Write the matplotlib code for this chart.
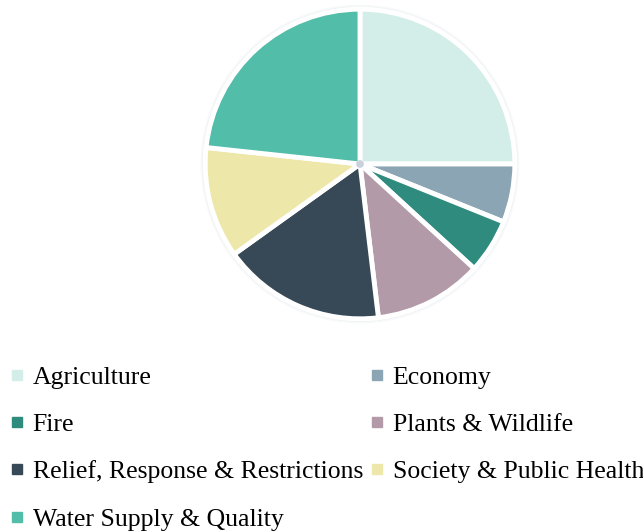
import matplotlib.pyplot as plt
from matplotlib.lines import Line2D
from matplotlib.patches import Circle

# Share of items per category
categories = ['Agriculture', 'Economy', 'Fire', 'Plants & Wildlife',
              'Relief, Response & Restrictions', 'Society & Public Health',
              'Water Supply & Quality']
shares = [25.0, 6.1, 5.7, 11.3, 17.0, 11.6, 23.3]
colors = ['#d3eee8', '#8ca5b5', '#2e8b7d', '#b39aa8',
          '#374956', '#ede8aa', '#52bda8']

plt.rcParams['font.family'] = ['Liberation Serif', 'DejaVu Serif']

fig = plt.figure(figsize=(6.43, 5.31), dpi=100)
ax = fig.add_axes([199 / 643, 1 - 325 / 531, 322 / 643, 322 / 531])

# soft shadow round the pie
for r, a in [(1.03, 0.05), (1.02, 0.07), (1.01, 0.09)]:
    ax.add_patch(Circle((0, 0), r, color='#7d8ea0', alpha=a, lw=0, zorder=0))

ax.pie(shares, colors=colors, startangle=90, counterclock=False,
       radius=1.0, wedgeprops=dict(edgecolor='white', linewidth=3.5))
ax.add_patch(Circle((0, 0), 0.025, color='#c9d2da', lw=0, zorder=5))
ax.set_xlim(-1.04, 1.04)
ax.set_ylim(-1.04, 1.04)
ax.set_aspect('equal')
ax.axis('off')

# legend laid out row by row in two columns
handles = [Line2D([], [], marker='s', linestyle='', markersize=7.5,
                  markerfacecolor=c, markeredgecolor=c) for c in colors]
order = [0, 2, 4, 6, 1, 3, 5]
fig.legend([handles[i] for i in order], [categories[i] for i in order],
           ncol=2, loc='upper left', bbox_to_anchor=(-0.001, 0.331),
           frameon=False, fontsize=18.5, handlelength=0.6, handletextpad=0.3,
           columnspacing=0.25, labelspacing=0.95, borderaxespad=0)

fig.savefig('out.png')
